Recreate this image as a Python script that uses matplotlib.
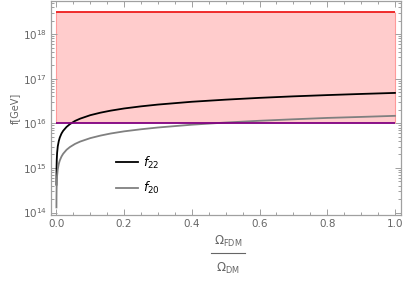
import matplotlib
matplotlib.use("Agg")
import matplotlib.pyplot as plt
import numpy as np
from matplotlib.ticker import LogLocator, FixedLocator, NullFormatter

plt.rcParams['mathtext.fontset'] = 'dejavusans'

# values
omega = [0.000075, 0.0002, 0.0005, 0.001, 0.002, 0.004, 0.007, 0.01, 0.015, 0.02,
         0.03, 0.04, 0.055, 0.07, 0.1, 0.13, 0.16, 0.2, 0.25, 0.3, 0.4, 0.5,
         0.6, 0.7, 0.8, 0.9, 1.0]
f22 = [4.2e14, 6.8e14, 1.07e15, 1.52e15, 2.15e15, 3.04e15, 4.0e15, 4.8e15, 5.9e15, 6.8e15,
       8.3e15, 9.6e15, 1.13e16, 1.27e16, 1.52e16, 1.73e16, 1.92e16, 2.15e16, 2.4e16, 2.63e16,
       3.04e16, 3.39e16, 3.72e16, 4.02e16, 4.29e16, 4.55e16, 4.8e16]
f20 = [1.3e14, 2.1e14, 3.3e14, 4.65e14, 6.6e14, 9.3e14, 1.23e15, 1.47e15, 1.8e15, 2.08e15,
       2.55e15, 2.94e15, 3.45e15, 3.89e15, 4.65e15, 5.3e15, 5.9e15, 6.6e15, 7.35e15, 8.05e15,
       9.3e15, 1.04e16, 1.14e16, 1.23e16, 1.32e16, 1.39e16, 1.47e16]

band_x = [0.0, 1.0]
band_low = 1e16
band_high = 3.2e18

fig = plt.figure(figsize=(4.07, 2.83), dpi=100)
ax = fig.add_axes([51 / 407, 1 - 215 / 283, 350 / 407, 214 / 283])

ax.fill_between(band_x, band_low, band_high, facecolor='#ffcccc', edgecolor='none', zorder=1)
ax.vlines(band_x, band_low, band_high, color='#ff9a9a', lw=0.8, zorder=1.5)
ax.hlines(band_high, band_x[0], band_x[1], color='#ee1c1c', lw=1.3, zorder=2)
ax.hlines(band_low, band_x[0], band_x[1], color='#800080', lw=1.3, zorder=4)

ax.plot(omega, f22, color='black', lw=1.3, zorder=3, label=r'$f_{22}$')
ax.plot(omega, f20, color='#808080', lw=1.3, zorder=3, label=r'$f_{20}$')

ax.set_yscale('log')
ax.set_xlim(-0.016, 1.018)
ax.set_ylim(10**13.944, 10**18.742)

ax.xaxis.set_major_locator(FixedLocator([0, 0.2, 0.4, 0.6, 0.8, 1.0]))
ax.xaxis.set_minor_locator(FixedLocator(np.arange(0, 1.001, 0.05)))
ax.set_xticklabels(['0.0', '0.2', '0.4', '0.6', '0.8', '1.0'])
ax.yaxis.set_major_locator(FixedLocator([1e14, 1e15, 1e16, 1e17, 1e18]))
ax.yaxis.set_minor_locator(LogLocator(base=10, subs=np.arange(2, 10), numticks=20))
ax.yaxis.set_minor_formatter(NullFormatter())
ax.set_yticklabels([r'$10^{14}$', r'$10^{15}$', r'$10^{16}$', r'$10^{17}$', r'$10^{18}$'])

frame = '#a0a0a0'
for s in ax.spines.values():
    s.set_color(frame)
    s.set_linewidth(0.9)
ax.tick_params(which='both', direction='in', top=True, right=True, color=frame,
               labelcolor='#666666', labelsize=7.5, width=0.7, pad=3)
ax.tick_params(which='major', length=4)
ax.tick_params(which='minor', length=2)
ax.tick_params(right=True, labelright=False, top=True, labeltop=False)

ax.set_ylabel('f[GeV]', color='#666666', fontsize=7, labelpad=2)

# x label drawn as a stacked fraction
fig.text(228 / 407, 1 - 241 / 283, r'$\Omega_{\mathrm{FDM}}$',
         color='#666666', fontsize=8.5, ha='center', va='center')
fig.text(228 / 407, 1 - 268 / 283, r'$\Omega_{\mathrm{DM}}$',
         color='#666666', fontsize=8.5, ha='center', va='center')
fig.add_artist(plt.Line2D([211 / 407, 245 / 407], [1 - 253 / 283, 1 - 253 / 283],
                          color='#666666', lw=0.8, transform=fig.transFigure))

leg = ax.legend(loc='upper left', bbox_to_anchor=(0.153, 0.335), frameon=False,
                fontsize=9, handlelength=1.75, handletextpad=0.4, labelspacing=0.75)

fig.savefig('out.png', dpi=100)
